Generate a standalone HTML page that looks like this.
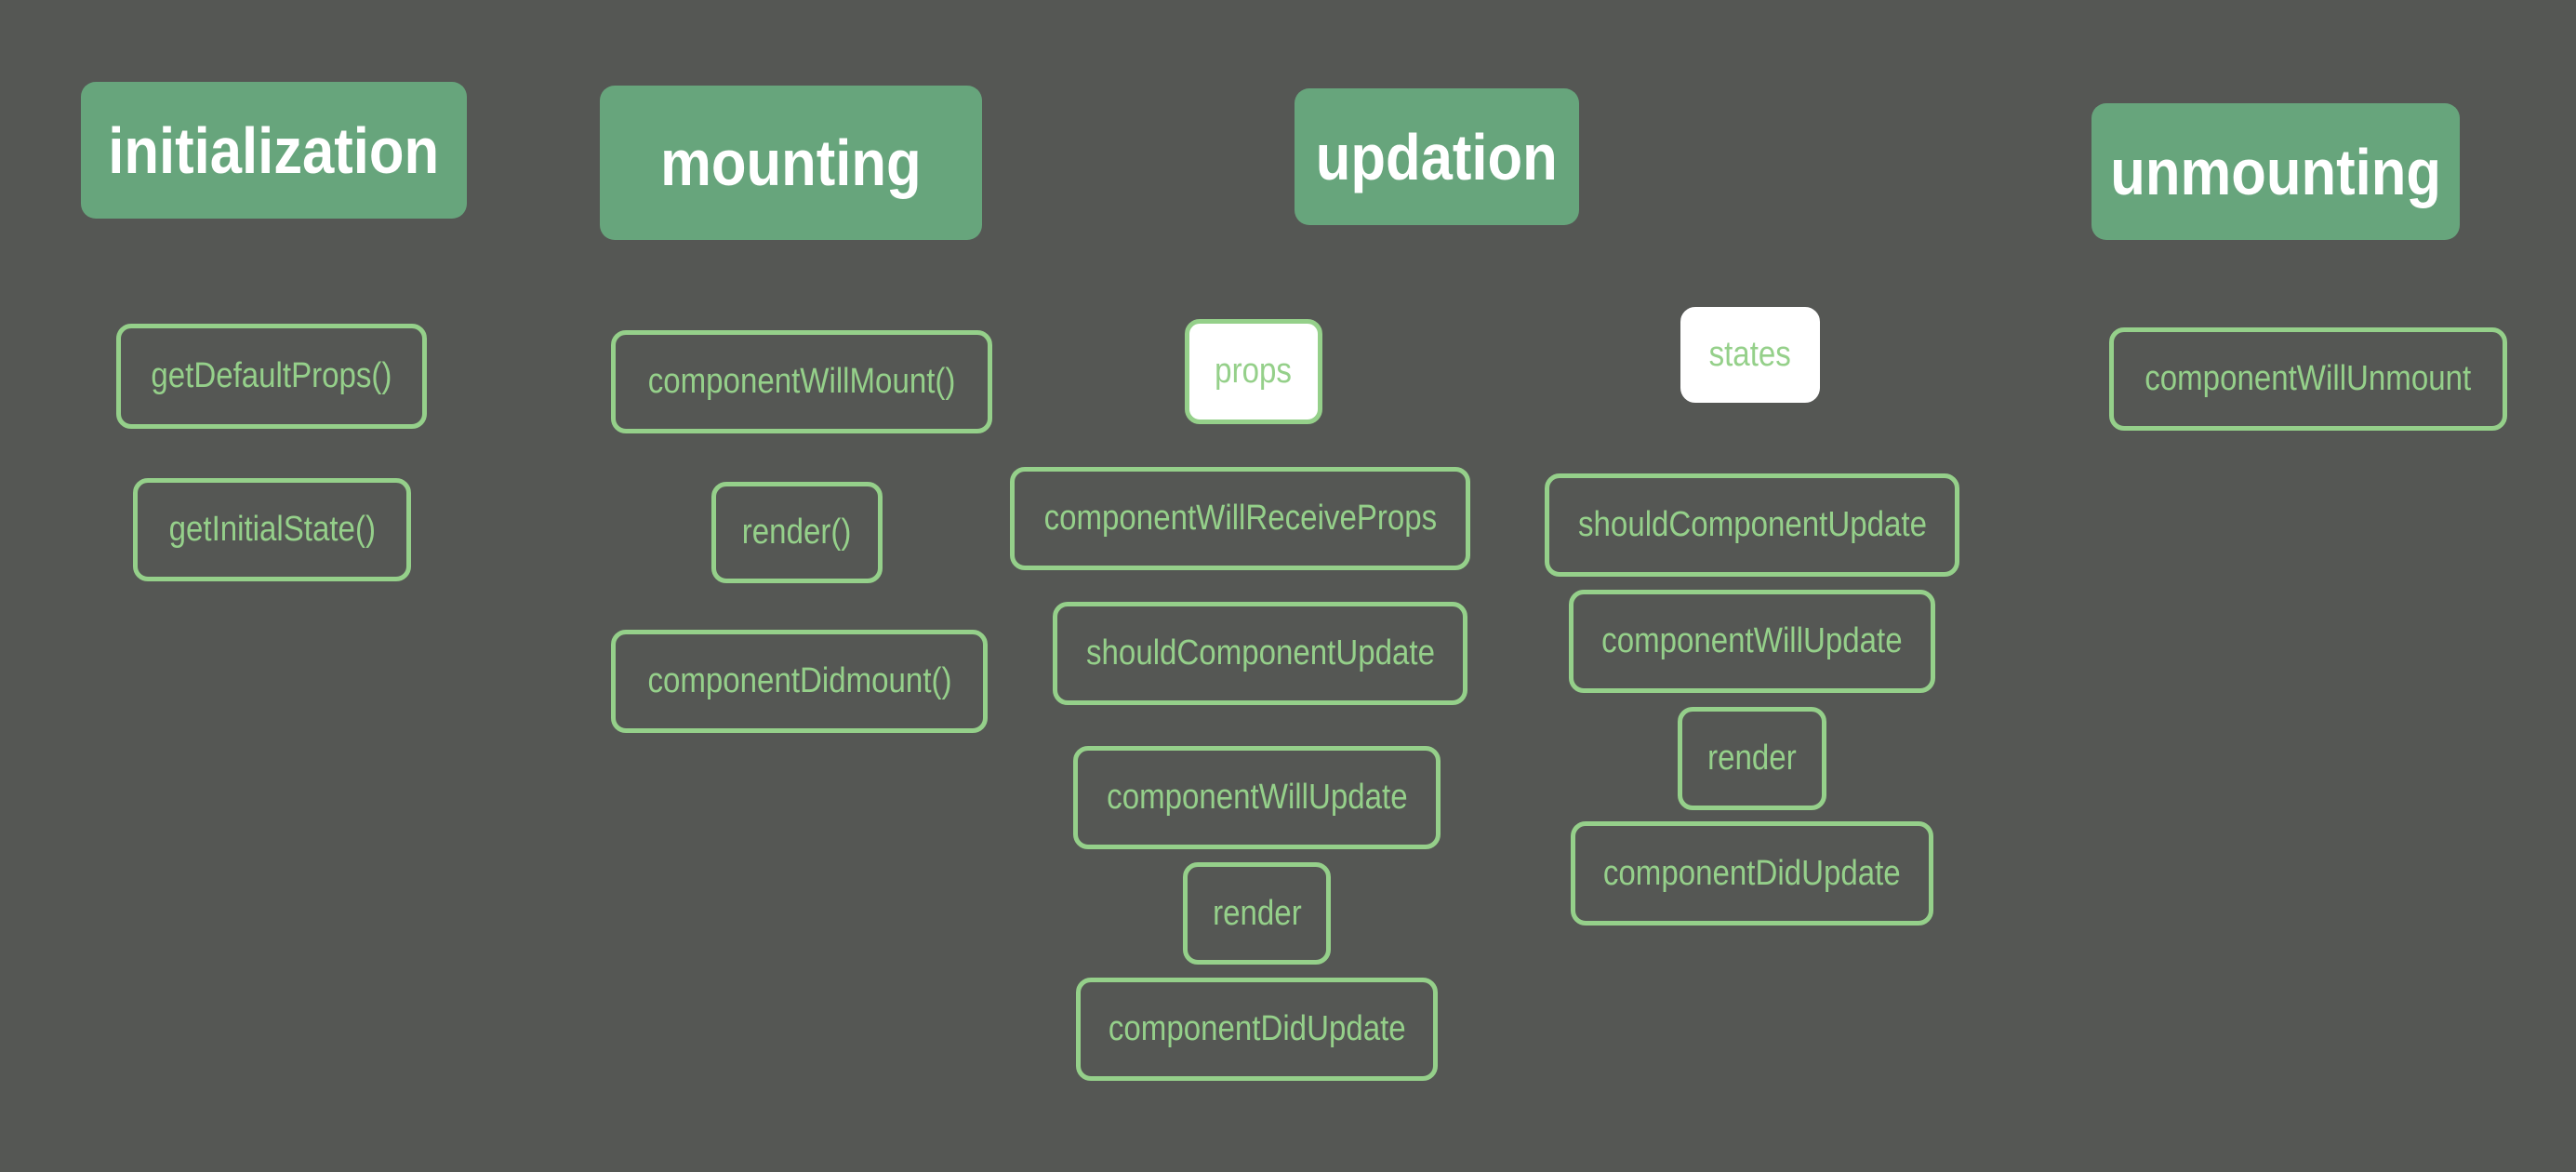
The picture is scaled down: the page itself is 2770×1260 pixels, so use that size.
<!DOCTYPE html>
<html><head><meta charset="utf-8"><style>
html,body{margin:0;padding:0}
body{width:2770px;height:1260px;background:#555754;position:relative;overflow:hidden;font-family:"Liberation Sans Narrow","Liberation Sans",sans-serif}
.h{position:absolute;background:#67a57c;border-radius:16px;color:#fff;font-weight:bold;font-size:70px;display:flex;align-items:center;justify-content:center}
.h span{display:inline-block;transform:scaleX(0.88);white-space:nowrap}
.b{position:absolute;box-sizing:border-box;border:5px solid #95d08a;border-radius:16px;color:#95d08a;font-size:38px;display:flex;align-items:center;justify-content:center;white-space:nowrap}
.b span{display:inline-block;transform:scaleX(0.87)}
.w{background:#fff}
</style></head><body>
<div class="h" style="left:87px;top:88px;width:415px;height:147px"><span>initialization</span></div>
<div class="h" style="left:645px;top:92px;width:411px;height:166px"><span>mounting</span></div>
<div class="h" style="left:1392px;top:95px;width:306px;height:147px"><span>updation</span></div>
<div class="h" style="left:2249px;top:111px;width:396px;height:147px"><span>unmounting</span></div>

<div class="b" style="left:125px;top:348px;width:334px;height:113px"><span>getDefaultProps()</span></div>
<div class="b" style="left:143px;top:514px;width:299px;height:111px"><span>getInitialState()</span></div>

<div class="b" style="left:657px;top:355px;width:410px;height:111px"><span>componentWillMount()</span></div>
<div class="b" style="left:765px;top:518px;width:184px;height:109px"><span>render()</span></div>
<div class="b" style="left:657px;top:677px;width:405px;height:111px"><span>componentDidmount()</span></div>

<div class="b w" style="left:1274px;top:343px;width:148px;height:113px"><span>props</span></div>
<div class="b" style="left:1086px;top:502px;width:495px;height:111px"><span>componentWillReceiveProps</span></div>
<div class="b" style="left:1132px;top:647px;width:446px;height:111px"><span>shouldComponentUpdate</span></div>
<div class="b" style="left:1154px;top:802px;width:395px;height:111px"><span>componentWillUpdate</span></div>
<div class="b" style="left:1272px;top:927px;width:159px;height:110px"><span>render</span></div>
<div class="b" style="left:1157px;top:1051px;width:389px;height:111px"><span>componentDidUpdate</span></div>

<div class="b w" style="left:1807px;top:330px;width:150px;height:103px;border-color:#fff"><span>states</span></div>
<div class="b" style="left:1661px;top:509px;width:446px;height:111px"><span>shouldComponentUpdate</span></div>
<div class="b" style="left:1687px;top:634px;width:394px;height:111px"><span>componentWillUpdate</span></div>
<div class="b" style="left:1804px;top:760px;width:160px;height:111px"><span>render</span></div>
<div class="b" style="left:1689px;top:883px;width:390px;height:112px"><span>componentDidUpdate</span></div>

<div class="b" style="left:2268px;top:352px;width:428px;height:111px"><span>componentWillUnmount</span></div>
</body></html>
